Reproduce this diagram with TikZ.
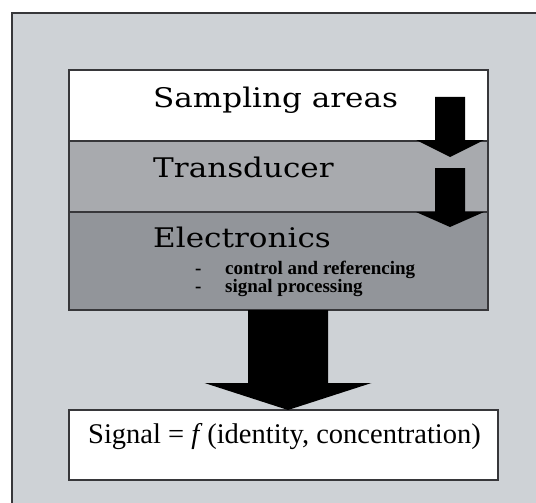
\documentclass[tikz,border=0pt]{standalone}
\usepackage{fontspec}
\setmainfont{Liberation Serif}
\newfontfamily\headfont[FakeStretch=1.15]{DejaVu Serif}
\usetikzlibrary{positioning,calc}

\definecolor{bggray}{RGB}{206,210,214}
\definecolor{transgray}{RGB}{168,170,174}
\definecolor{elecgray}{RGB}{146,149,154}
\definecolor{linegray}{RGB}{55,55,58}

% block arrow: start, tip, shaft half width, head half width, head length
\newcommand\blockarrow[5]{%
  \fill ($(#1)+(-#3,0)$) -- ($(#2)+(-#3,-#5)$) -- ($(#2)+(-#4,-#5)$) -- (#2)
        -- ($(#2)+(#4,-#5)$) -- ($(#2)+(#3,-#5)$) -- ($(#1)+(#3,0)$) -- cycle;}

\begin{document}
\begin{tikzpicture}[x=1pt,y=-1pt,
    layer/.style={draw=linegray,line width=1.2pt,rectangle,inner sep=0pt,
                  outer sep=0pt,minimum width=419pt},
    heading/.style={font=\headfont\fontsize{27}{30}\selectfont,inner sep=0pt,
                    anchor=base west},
    item/.style={font=\bfseries\fontsize{19}{22}\selectfont,inner sep=0pt,
                 anchor=base west}]
  \useasboundingbox (0,0) rectangle (536,503);
  \clip (0,0) rectangle (536,503);
  \fill[white] (0,0) rectangle (536,503);

  % outer frame, open to the right and bottom
  \draw[linegray,line width=1.5pt,fill=bggray] (12,560) -- (12,13) -- (560,13)
        -- (560,560) -- cycle;

  \node[layer,fill=white,minimum height=71pt] (sampling) at (278.5,105.5) {};
  \node[layer,fill=transgray,minimum height=71pt,below=0pt of sampling] (transducer) {};
  \node[layer,fill=elecgray,minimum height=98pt,below=0pt of transducer] (electronics) {};
  \node[layer,fill=white,minimum width=429pt,minimum height=70pt] (signal) at (283.5,445) {};

  \node[heading] (samptext) at ([shift={(84pt,-37pt)}]sampling.north west) {Sampling areas};
  \node[heading] (transtext) at ([shift={(84pt,-36pt)}]transducer.north west) {Transducer};
  \node[heading] (electext) at ([shift={(84pt,-35pt)}]electronics.north west) {Electronics};
  \node[item] (dash1) at ([shift={(126pt,-62pt)}]electronics.north west) {-};
  \node[item] (dash2) at ([yshift=-18pt]dash1.base west) {-};
  \node[item] (control) at ([xshift=30pt]dash1.base west) {control and referencing};
  \node[item] (processing) at ([xshift=30pt]dash2.base west) {signal processing};
  \node[font=\fontsize{28.5}{32}\selectfont,inner sep=0pt,anchor=base west] (sigtext)
       at ([shift={(19pt,-33pt)}]signal.north west)
       {Signal = \textit{f}\,(identity, concentration)};

  % arrows
  \coordinate (a1s) at (450,97);
  \coordinate (a1e) at (450,157);
  \coordinate (a2s) at (450,168);
  \coordinate (a2e) at (450,227);
  \coordinate (bigtop) at ([xshift=9.5pt]electronics.south);
  \coordinate (bigtip) at (bigtop |- signal.north);
  \blockarrow{a1s}{a1e}{15}{34}{17}
  \blockarrow{a2s}{a2e}{15}{34}{15}
  \blockarrow{bigtop}{bigtip}{40}{83.5}{27}
\end{tikzpicture}
\end{document}
